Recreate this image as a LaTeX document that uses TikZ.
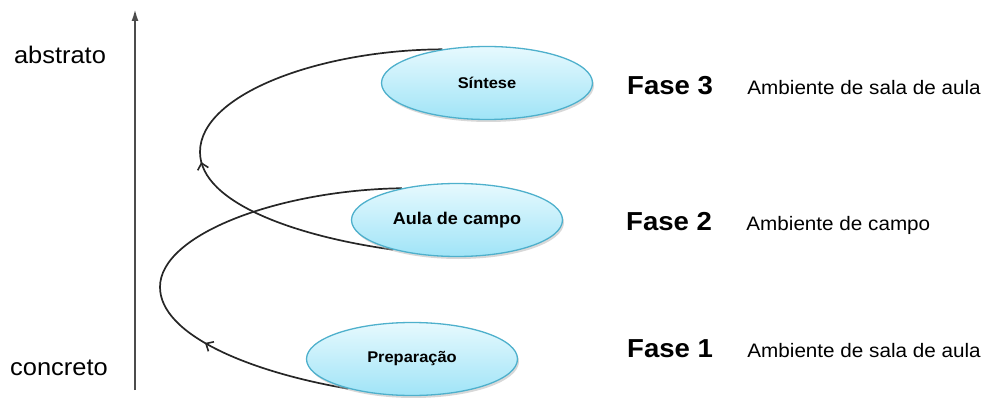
\documentclass[tikz,border=0pt]{standalone}
\usepackage{fontspec}
\setmainfont{Liberation Sans}[FakeStretch=1.06]
\usepackage{tikz}
\usetikzlibrary{shapes.geometric,shadows,arrows.meta,decorations.markings,positioning,backgrounds}

\definecolor{faseborder}{RGB}{78,176,204}
\definecolor{fasetop}{RGB}{230,249,254}
\definecolor{fasebottom}{RGB}{160,228,247}

\tikzset{
	fase/.style={ellipse, draw=faseborder, line width=1.3pt, minimum width=211pt, minimum height=73pt, inner sep=0pt,
		top color=fasetop, bottom color=fasebottom,
		drop shadow={shadow xshift=1.5pt, shadow yshift=-2.5pt, fill=gray!60}},
	flow/.style={line width=1.7pt, black!85, postaction={decorate, decoration={markings,
		mark=at position #1 with {\arrow{Straight Barb[length=6pt,width=11pt,line width=1.6pt]}}}}},
	lbl/.style={inner sep=0pt, anchor=base}
}

\begin{document}
\begin{tikzpicture}[x=1pt,y=-1pt]
	\useasboundingbox (0,0) rectangle (984,398);
	\newcommand{\bigfont}{\fontsize{24}{28}\selectfont}
	\newcommand{\fasefont}{\bfseries\fontsize{26}{30}\selectfont}
	\newcommand{\amfont}{\fontsize{19.5}{23}\selectfont}
	
	% eixo
	\coordinate (axbot) at (135,390);
	\coordinate (axtop) at (135,9);
	\draw[line width=2pt, black!70, -{Latex[length=12pt,width=7pt]}] (axbot) -- (axtop);
	\node[lbl, font=\bigfont] (abs) at (60,64) {abstrato};
	\node[lbl, font=\bigfont] (conc) at (59,375) {concreto};
	
	% fases
	\node[fase, font=\bfseries\fontsize{15.5}{18}\selectfont] (sint) at (487,83) {Síntese};
	\node[fase, font=\bfseries\fontsize{17}{20}\selectfont] (aula) at (457,220) {Aula de campo};
	\node[fase, font=\bfseries\fontsize{15.5}{18}\selectfont] (prep) at (412,359) {Preparação};
	
	\node[lbl, anchor=base west, font=\fasefont] (f3) at (627,95) {Fase 3};
	\node[lbl, anchor=base west, font=\fasefont] (f2) at (626,230) {Fase 2};
	\node[lbl, anchor=base west, font=\fasefont] (f1) at (627,357) {Fase 1};
	\node[lbl, font=\amfont, base right=34pt of f3] (am3) {Ambiente de sala de aula};
	\node[lbl, font=\amfont, base right=34pt of f2] (am2) {Ambiente de campo};
	\node[lbl, font=\amfont, base right=34pt of f1] (am1) {Ambiente de sala de aula};
	
	\begin{scope}[on background layer]
	\draw[flow=0.3] (prep.205) .. controls (250,372) and (160,335) .. (160,287)
		.. controls (160,234) and (280,190) .. (aula.150);
	\draw[flow=0.43] (aula.205) .. controls (300,237) and (200,204) .. (200,152)
		.. controls (200,94) and (320,50) .. (sint.143);
	\end{scope}
\end{tikzpicture}
\end{document}
